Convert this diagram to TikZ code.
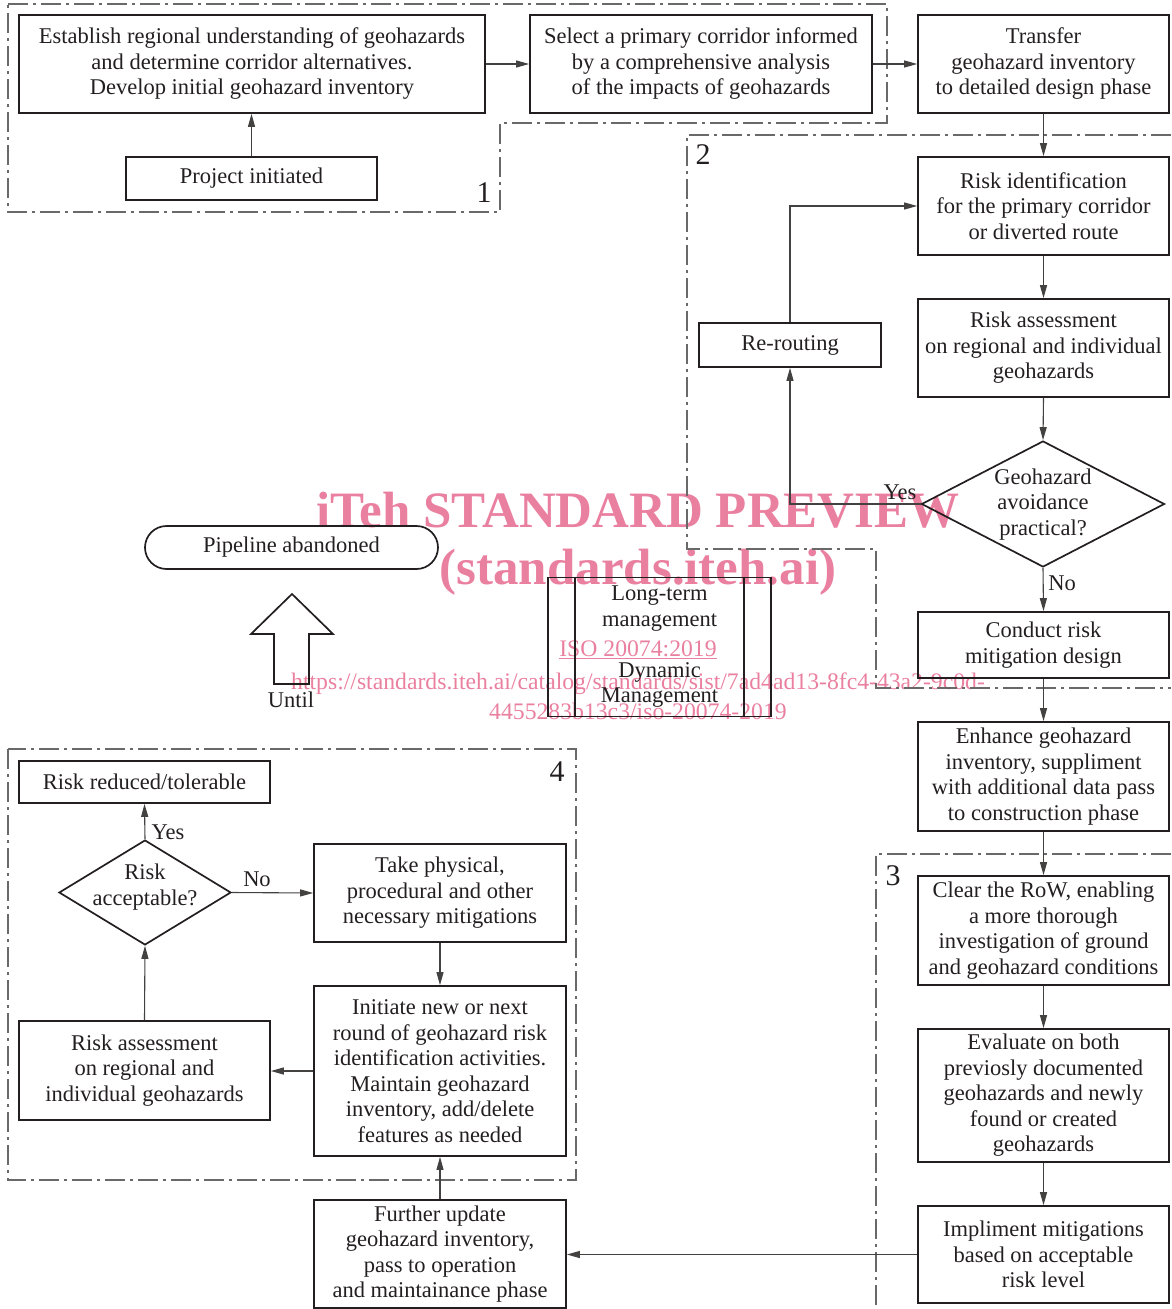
\documentclass[tikz,border=0pt]{standalone}
\usepackage{fontspec}
\setmainfont{Liberation Serif}
\usetikzlibrary{arrows.meta,shapes.geometric,shapes.misc}
\definecolor{wm}{RGB}{234,128,160}
\definecolor{ink}{RGB}{35,31,32}
\definecolor{dd}{RGB}{105,105,105}
\newcommand{\mfs}{\fontsize{22.5}{25.5}\selectfont}
\begin{document}
\begin{tikzpicture}[x=1pt,y=-1pt,
 box/.style={draw=ink, line width=1.7pt, align=center, inner sep=0pt, font=\mfs, text=ink},
 dia/.style={draw=ink, line width=1.7pt, diamond, inner sep=0pt, font=\mfs, text=ink},
 conn/.style={draw=ink!85, line width=1.1pt, -{Triangle[length=13pt,width=7pt]}},
 region/.style={draw=dd, line width=1.3pt, dash pattern=on 20pt off 5pt on 3pt off 5pt},
 lbl/.style={font=\mfs, text=ink, inner sep=0pt},
 num/.style={font=\fontsize{30}{30}\selectfont, text=ink, inner sep=0pt},
 wmbig/.style={font=\fontsize{51}{51}\selectfont\bfseries, text=wm, inner sep=0pt, anchor=base},
 wmsmall/.style={font=\fontsize{23.7}{24}\selectfont, text=wm, inner sep=0pt, anchor=base},
]
\useasboundingbox (0,0) rectangle (1171,1309);

% watermark
\node[wmbig] (w1) at (638,527) {iTeh STANDARD PREVIEW};
\node[wmbig] (w2) at (638,584) {(standards.iteh.ai)};
\node[wmsmall] (w3) at (638,656) {\underline{ISO 20074:2019}};
\node[wmsmall] (w4) at (638,689) {https://standards.iteh.ai/catalog/standards/sist/7ad4ad13-8fc4-43a2-9c0d-};
\node[wmsmall] (w5) at (638,719) {4455283b13c3/iso-20074-2019};

% regions
\draw[region] (8,4) -- (887,4) -- (887,123) -- (500,123) -- (500,212) -- (8,212) -- cycle;
\draw[region] (1171,135) -- (687,135) -- (687,549) -- (876,549) -- (876,688) -- (1171,688);
\draw[region] (1171,854) -- (876,854) -- (876,1309);
\draw[region] (8,749) rectangle (576,1180);
\node[num] (n1) at (484,193) {1};
\node[num] (n2) at (703,155) {2};
\node[num] (n3) at (893,876) {3};
\node[num] (n4) at (557,772) {4};

% boxes
\node[box, minimum width=466pt, minimum height=98pt] (A) at (252,64) {Establish regional understanding of geohazards\\and determine corridor alternatives.\\Develop initial geohazard inventory};
\node[box, minimum width=342pt, minimum height=98pt] (B) at (701,64) {Select a primary corridor informed\\by a comprehensive analysis\\of the impacts of geohazards};
\node[box, minimum width=251pt, minimum height=98pt] (C) at (1043.5,64) {Transfer\\geohazard inventory\\to detailed design phase};
\node[box, minimum width=251pt, minimum height=43pt] (P) at (251.5,178.5) {Project initiated};
\node[box, minimum width=251pt, minimum height=98pt] (D) at (1043.5,206) {Risk identification\\for the primary corridor\\or diverted route};
\node[box, minimum width=251pt, minimum height=98pt] (E) at (1043.5,348) {Risk assessment\\on regional and individual\\geohazards};
\node[dia, minimum width=243pt, minimum height=126pt] (F) at (1043,504) {\smash{\raisebox{-6pt}{\begin{tabular}{@{}c@{}}Geohazard\\avoidance\\practical?\end{tabular}}}};
\node[box, minimum width=182pt, minimum height=44pt] (R) at (790,345) {Re-routing};
\node[box, minimum width=251pt, minimum height=66pt] (G) at (1043.5,645) {Conduct risk\\mitigation design};
\node[box, minimum width=251pt, minimum height=109pt] (H) at (1043.5,776.5) {Enhance geohazard\\inventory, suppliment\\with additional data pass\\to construction phase};
\node[box, minimum width=251pt, minimum height=109pt] (I) at (1043.5,930.5) {Clear the RoW, enabling\\a more thorough\\investigation of ground\\and geohazard conditions};
\node[box, minimum width=251pt, minimum height=133pt] (J) at (1043.5,1095.5) {Evaluate on both\\previosly documented\\geohazards and newly\\found or created\\geohazards};
\node[box, minimum width=251pt, minimum height=97pt] (K) at (1043.5,1254.5) {Impliment mitigations\\based on acceptable\\risk level};
\node[box, minimum width=252pt, minimum height=108pt] (L) at (440,1254) {Further update\\geohazard inventory,\\pass to operation\\and maintainance phase};
\node[box, minimum width=252pt, minimum height=170pt] (M) at (440,1071) {Initiate new or next\\round of geohazard risk\\identification activities.\\Maintain geohazard\\inventory, add/delete\\features as needed};
\node[box, minimum width=252pt, minimum height=98pt] (N) at (440,893) {Take physical,\\procedural and other\\necessary mitigations};
\node[box, minimum width=251pt, minimum height=99pt] (O) at (144.5,1070.5) {Risk assessment\\on regional and\\individual geohazards};
\node[dia, minimum width=172pt, minimum height=91pt] (Q) at (145,892.5) {\smash{\raisebox{0pt}{\begin{tabular}{@{}c@{}}Risk\\acceptable?\end{tabular}}}};
\node[box, minimum width=251pt, minimum height=42pt] (S) at (144.5,782) {Risk reduced/tolerable};
\node[box, rounded rectangle, minimum width=293pt, minimum height=43pt] (T) at (291.5,547.5) {Pipeline abandoned};
\node[box, minimum width=223pt, minimum height=139pt] (LT) at (659.5,647) {Long-term\\management\\[25.5pt]Dynamic\\Management};
\draw[draw=ink, line width=1.7pt] ([xshift=28pt]LT.north west) -- ([xshift=28pt]LT.south west);
\draw[draw=ink, line width=1.7pt] ([xshift=-28pt]LT.north east) -- ([xshift=-28pt]LT.south east);

% big arrow
\draw[draw=ink, line width=1.7pt, line join=miter] (274,684) -- (274,634) -- (251,634) -- (292,594) -- (333,634) -- (309,634) -- (309,684) -- cycle;
\node[lbl] (U) at (291,700) {Until};

% connectors
\draw[conn] (A.east) -- (B.west);
\draw[conn] (B.east) -- (C.west);
\draw[conn] (P.north) -- (P.north |- A.south);
\draw[conn] (C.south) -- (D.north);
\draw[conn] (D.south) -- (E.north);
\draw[conn] (E.south) -- (F.north);
\draw[conn] (F.south) -- (G.north);
\draw[conn] (G.south) -- (H.north);
\draw[conn] (H.south) -- (I.north);
\draw[conn] (I.south) -- (J.north);
\draw[conn] (J.south) -- (K.north);
\draw[conn] (F.west) -| (R.south);
\draw[conn] (R.north) |- (D.west);
\draw[conn] (K.west) -- (K.west -| L.east);
\draw[conn] (L.north) -- (M.south);
\draw[conn] (N.south) -- (M.north);
\draw[conn] (M.west) -- (M.west -| O.east);
\draw[conn] (O.north) -- (Q.south);
\draw[conn] (Q.north) -- (S.south);
\draw[conn] (Q.east) -- (N.west);

% labels
\node[lbl] (yes1) at (900,492) {Yes};
\node[lbl] (no1) at (1062,583) {No};
\node[lbl] (yes2) at (168,832) {Yes};
\node[lbl] (no2) at (257,879) {No};
\end{tikzpicture}
\end{document}
